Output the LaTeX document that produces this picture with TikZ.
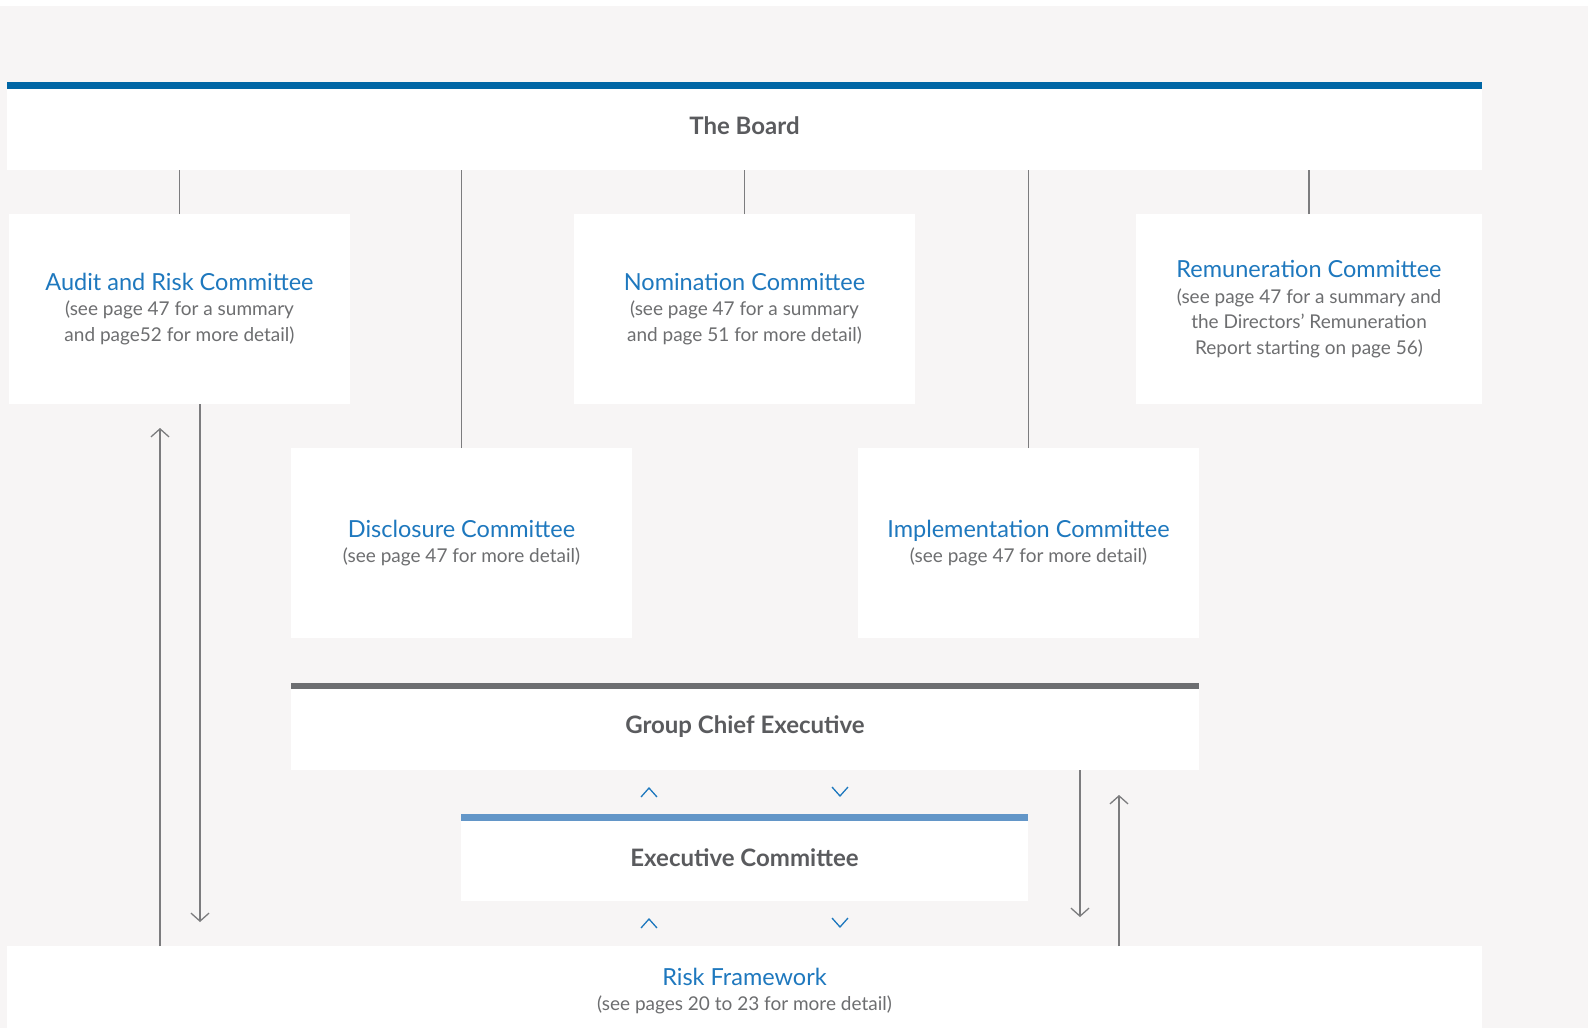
\documentclass[tikz,border=0pt]{standalone}
\usepackage{fontspec}
\setmainfont{Lato}
\usetikzlibrary{arrows.meta}
\definecolor{bgc}{HTML}{F7F5F5}
\definecolor{boardblue}{HTML}{0066A5}
\definecolor{tblue}{HTML}{1E78BE}
\definecolor{subgray}{HTML}{6D6E70}
\definecolor{boldgray}{HTML}{5A5B5E}
\definecolor{gcebar}{HTML}{6D6E71}
\definecolor{exbar}{HTML}{6396C8}
\definecolor{lgray}{HTML}{7C7C7E}
\newcommand{\ttl}[1]{{\color{tblue}\fontsize{23.5}{26}\selectfont #1}}
\begin{document}
\begin{tikzpicture}[x=1pt,y=-1pt,
  box/.style={fill=white, inner sep=0pt, outer sep=0pt, anchor=north west, align=center,
    text=subgray, font=\fontsize{19}{25.5}\selectfont},
  boldbox/.style={box, text=boldgray, font=\bfseries\fontsize{24}{25}\selectfont},
  conn/.style={draw=lgray, line width=1.3pt},
  arr/.style={conn, -{Straight Barb[length=8pt,width=18pt,line width=1.3pt]}},
  chev/.style={draw=tblue, line width=1.3pt}]
\useasboundingbox (0,0) rectangle (1588,1028);
\fill[white] (0,0) rectangle (1588,1028);
\fill[bgc] (0,6) rectangle (1588,1028);

% Board
\node[boldbox, minimum width=1475, minimum height=88] (board) at (7,82) {The Board};
\fill[boardblue] (board.north west) rectangle ([yshift=-7pt]board.north east);

% Row 1
\node[box, minimum width=341, minimum height=190] (audit) at (9,214)
  {\ttl{Audit and Risk Committee}\\(see page 47 for a summary\\and page52 for more detail)};
\node[box, minimum width=341, minimum height=190] (nom) at (574,214)
  {\ttl{Nomination Committee}\\(see page 47 for a summary\\and page 51 for more detail)};
\node[box, minimum width=346, minimum height=190] (rem) at (1136,214)
  {\ttl{Remuneration Committee}\\(see page 47 for a summary and\\the Directors’ Remuneration\\Report starting on page 56)};

% Row 2
\node[box, minimum width=341, minimum height=190] (disc) at (291,448)
  {\ttl{Disclosure Committee}\\(see page 47 for more detail)};
\node[box, minimum width=341, minimum height=190] (impl) at (858,448)
  {\ttl{Implementation Committee}\\(see page 47 for more detail)};

% Group Chief Executive
\node[boldbox, minimum width=908, minimum height=87] (gce) at (291,683) {Group Chief Executive};
\fill[gcebar] (gce.north west) rectangle ([yshift=-6pt]gce.north east);

% Executive Committee
\node[boldbox, minimum width=567, minimum height=87] (exco) at (461,814) {Executive Committee};
\fill[exbar] (exco.north west) rectangle ([yshift=-7pt]exco.north east);

% Risk Framework
\node[box, minimum width=1475, minimum height=90] (risk) at (7,946)
  {\ttl{Risk Framework}\\(see pages 20 to 23 for more detail)};

% Connectors from the Board
\foreach \n in {audit,nom,rem,disc,impl}
  \draw[conn] (\n.north) -- (\n.north |- board.south);

% Left arrows
\coordinate (aup) at (160,428);
\coordinate (adn) at (200,922);
\draw[arr] (aup |- risk.north) -- (aup);
\draw[arr] (adn |- audit.south) -- (adn);

% Right arrows
\coordinate (gdn) at (1080,917);
\coordinate (gup) at (1119,795);
\draw[arr] (gdn |- gce.south) -- (gdn);
\draw[arr] (gup |- risk.north) -- (gup);

% Chevrons
\foreach \y in {792,923} {
  \draw[chev] (641,\y+5) -- (649,\y-4) -- (657,\y+5);
  \draw[chev] (832,\y-5) -- (840,\y+4) -- (848,\y-5);
}
\end{tikzpicture}
\end{document}
